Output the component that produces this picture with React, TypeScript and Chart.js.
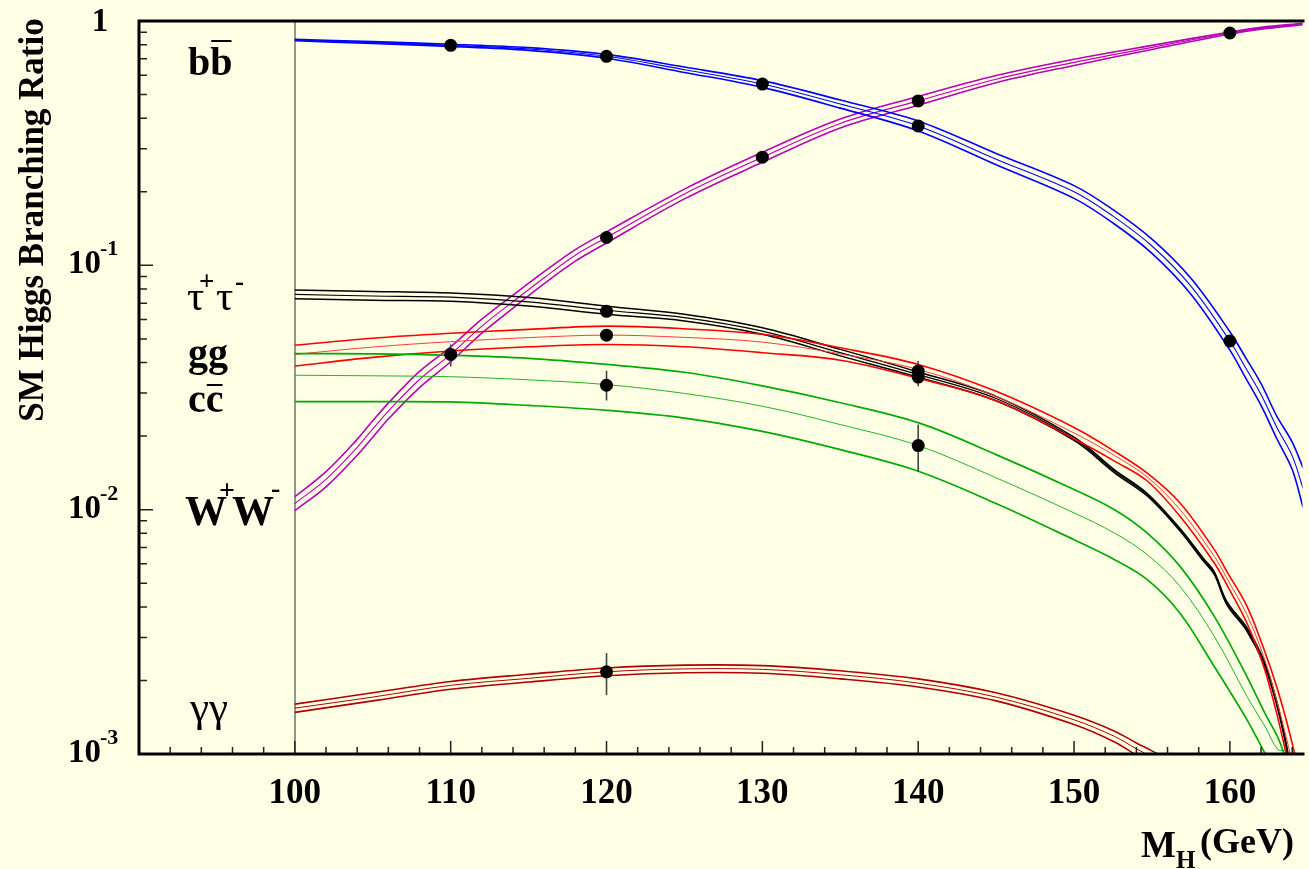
import React, { useEffect, useRef } from "react";
import { Chart, registerables } from "chart.js";

Chart.register(...registerables);

const W = 1309;
const H = 869;
const BG = "rgb(255,255,230)";
const SERIF = '"Liberation Serif", "Times New Roman", serif';

// ---------------- axis ticks ----------------
const xMajorTicks = [100, 110, 120, 130, 140, 150, 160];
const xTickLabels = ["100", "110", "120", "130", "140", "150", "160"];
const yDecades = [0.001, 0.01, 0.1, 1];
const yDecadeExponents = ["-3", "-2", "-1", ""];

// ---------------- b bbar (blue) ----------------
const bbMass = [100, 105, 110, 115, 120, 125, 130, 135, 140, 145, 150, 152.5, 155, 157.5, 160, 161, 162, 163, 164, 164.7];
const bbCentral = [0.836, 0.816, 0.795, 0.768, 0.717, 0.632, 0.552, 0.457, 0.372, 0.272, 0.2, 0.159, 0.12, 0.0822, 0.049, 0.0382, 0.0296, 0.0218, 0.0166, 0.0122];
const bbUpper = [0.842, 0.823, 0.803, 0.778, 0.73, 0.648, 0.57, 0.475, 0.39, 0.287, 0.212, 0.169, 0.128, 0.0885, 0.0535, 0.042, 0.0328, 0.0242, 0.0189, 0.0148];
const bbLower = [0.83, 0.809, 0.787, 0.758, 0.704, 0.616, 0.535, 0.44, 0.355, 0.258, 0.188, 0.149, 0.112, 0.0762, 0.045, 0.0347, 0.0267, 0.0196, 0.0146, 0.0102];

// ---------------- W+W- (magenta) ----------------
const wwMass = [100, 102, 104, 105, 106, 108, 110, 112, 114, 116, 118, 120, 125, 130, 135, 140, 145, 150, 155, 160, 162, 164.7];
const wwCentral = [0.0106, 0.0133, 0.018, 0.0214, 0.0253, 0.0341, 0.0432, 0.0564, 0.071, 0.089, 0.11, 0.13, 0.196, 0.277, 0.381, 0.471, 0.578, 0.677, 0.78, 0.893, 0.934, 0.972];
const wwUpper = [0.0113, 0.0143, 0.0194, 0.0231, 0.0273, 0.0368, 0.0464, 0.0602, 0.0755, 0.0942, 0.116, 0.137, 0.205, 0.29, 0.397, 0.491, 0.598, 0.697, 0.795, 0.901, 0.942, 0.978];
const wwLower = [0.0099, 0.0124, 0.0167, 0.0198, 0.0235, 0.0316, 0.0403, 0.0528, 0.0668, 0.0841, 0.104, 0.1235, 0.187, 0.264, 0.365, 0.452, 0.559, 0.658, 0.765, 0.885, 0.926, 0.966];

// ---------------- tau+tau- (black) ----------------
const tauMass = [100, 105, 110, 115, 120, 125, 130, 135, 140, 145, 150, 152.6, 154.7, 156.8, 158.3, 159, 159.8, 161.1, 162.2, 163, 163.55, 163.9];
const tauCentral = [0.076, 0.0749, 0.0741, 0.0709, 0.0655, 0.0611, 0.0538, 0.0439, 0.0357, 0.0285, 0.0195, 0.01435, 0.01151, 0.00828, 0.00624, 0.0055, 0.00415, 0.00323, 0.00236, 0.00162, 0.00114, 0.00085];
const tauUpper = [0.0792, 0.0782, 0.077, 0.0738, 0.068, 0.063, 0.0555, 0.0453, 0.0366, 0.0291, 0.0198, 0.01455, 0.01165, 0.00838, 0.00632, 0.00557, 0.00421, 0.00328, 0.0024, 0.00165, 0.00116, 0.00087];
const tauLower = [0.073, 0.0719, 0.0713, 0.0681, 0.063, 0.0592, 0.0522, 0.0426, 0.0348, 0.0279, 0.0192, 0.01415, 0.01137, 0.00818, 0.00616, 0.00543, 0.00409, 0.00318, 0.00232, 0.00159, 0.00112, 0.00083];

// ---------------- gg (red) ----------------
const ggMass = [100, 105, 110, 115, 120, 125, 130, 135, 140, 145, 150, 152.6, 154.7, 156.8, 159, 159.8, 161.1, 162.2, 163, 163.6, 164.2];
const ggCentral = [0.0432, 0.0463, 0.0487, 0.0506, 0.0518, 0.0507, 0.0485, 0.0434, 0.0375, 0.0291, 0.0206, 0.01665, 0.0136, 0.01, 0.00644, 0.00525, 0.00371, 0.00247, 0.00166, 0.00118, 0.00082];
const ggUpper = [0.0471, 0.0503, 0.0527, 0.0547, 0.0564, 0.055, 0.0522, 0.046, 0.0393, 0.0305, 0.0217, 0.01733, 0.0141, 0.01065, 0.00686, 0.00559, 0.00402, 0.00267, 0.00189, 0.00139, 0.00098];
const ggLower = [0.0387, 0.042, 0.0446, 0.0464, 0.0474, 0.0464, 0.0439, 0.0409, 0.0345, 0.0279, 0.0195, 0.0158, 0.0131, 0.00939, 0.00605, 0.00493, 0.00343, 0.00225, 0.00147, 0.00101, 0.0007];

// ---------------- c cbar (green) ----------------
const ccMass = [100, 105, 110, 115, 120, 125, 130, 135, 140, 145, 150, 152.6, 154.7, 156.8, 159, 161.1, 162.27, 163.1, 163.6];
const ccCentral = [0.0355, 0.0353, 0.035, 0.034, 0.0325, 0.0299, 0.0265, 0.0223, 0.0183, 0.0135, 0.0097, 0.00802, 0.00654, 0.00485, 0.00303, 0.00172, 0.00129, 0.00104, 0.00104];
const ccUpper = [0.0435, 0.0434, 0.0428, 0.0416, 0.0393, 0.0365, 0.0321, 0.0274, 0.0227, 0.0168, 0.0121, 0.01, 0.00802, 0.00586, 0.00366, 0.00207, 0.00146, 0.00116, 0.00095];
const ccLower = [0.0277, 0.0277, 0.0276, 0.0267, 0.0255, 0.0237, 0.0209, 0.0176, 0.01437, 0.0106, 0.00753, 0.00624, 0.00517, 0.00377, 0.00228, 0.00138, 0.001, 0.0008, 0.0007];

// ---------------- gamma gamma (dark red) ----------------
const aaMass = [100, 105, 110, 115, 120, 125, 130, 135, 140, 145, 150, 152.6, 154, 155, 156];
const aaCentral = [0.00154, 0.00171, 0.00191, 0.00204, 0.00217, 0.00223, 0.00222, 0.00211, 0.00195, 0.00171, 0.00138, 0.00118, 0.00105, 0.00097, 0.00088];
const aaUpper = [0.0016, 0.00178, 0.00198, 0.00212, 0.00225, 0.00231, 0.0023, 0.00219, 0.00203, 0.00178, 0.00144, 0.00124, 0.00111, 0.00103, 0.00095];
const aaLower = [0.00148, 0.00165, 0.00184, 0.00197, 0.00209, 0.00215, 0.00214, 0.00203, 0.00188, 0.00165, 0.00132, 0.00112, 0.00099, 0.00092, 0.00084];

// ---------------- measured points ----------------
const bbDotMass = [110, 120, 130, 140, 160];
const bbDotValue = [0.795, 0.717, 0.552, 0.372, 0.049];
const wwDotMass = [110, 120, 130, 140, 160];
const wwDotValue = [0.0432, 0.13, 0.277, 0.471, 0.893];
const tauDotMass = [120, 140];
const tauDotValue = [0.0648, 0.0349];
const ggDotMass = [120, 140];
const ggDotValue = [0.0518, 0.0369];
const ccDotMass = [120, 140];
const ccDotValue = [0.0323, 0.0183];
const aaDotMass = [120];
const aaDotValue = [0.00217];

// ---------------- error bars ----------------
const errMass = [110, 120, 140, 140, 120];
const errLow = [0.0385, 0.028, 0.032, 0.01435, 0.00174];
const errHigh = [0.0474, 0.037, 0.0406, 0.0223, 0.00259];

const pts = (xs: number[], ys: number[]) => xs.map((x, i) => ({ x, y: ys[i] }));

type BandStyle = { outer: string; inner: string; outerWidth: number; innerWidth: number };

function bandDatasets(mass: number[], up: number[], cen: number[], lo: number[], s: BandStyle) {
  const base = { pointRadius: 0, fill: false, tension: 0.35, order: 3 };
  return [
    { ...base, data: pts(mass, up), borderColor: s.outer, borderWidth: s.outerWidth },
    { ...base, data: pts(mass, cen), borderColor: s.inner, borderWidth: s.innerWidth },
    { ...base, data: pts(mass, lo), borderColor: s.outer, borderWidth: s.outerWidth },
  ];
}

function dotDataset(mass: number[], vals: number[]) {
  return {
    data: pts(mass, vals),
    showLine: false,
    pointRadius: 6.5,
    pointBackgroundColor: "#000",
    pointBorderColor: "#000",
    pointBorderWidth: 0,
    order: 0,
  };
}

function buildDatasets() {
  const ds: any[] = [];
  ds.push(...bandDatasets(ccMass, ccUpper, ccCentral, ccLower, { outer: "#00aa00", inner: "#22b422", outerWidth: 1.7, innerWidth: 1.0 }));
  ds.push(...bandDatasets(aaMass, aaUpper, aaCentral, aaLower, { outer: "#b00000", inner: "#b00000", outerWidth: 1.6, innerWidth: 1.0 }));
  ds.push(...bandDatasets(ggMass, ggUpper, ggCentral, ggLower, { outer: "#ff0000", inner: "#ff3a3a", outerWidth: 1.6, innerWidth: 1.0 }));
  ds.push(...bandDatasets(tauMass, tauUpper, tauCentral, tauLower, { outer: "#000000", inner: "#000000", outerWidth: 1.5, innerWidth: 1.2 }));
  ds.push(...bandDatasets(bbMass, bbUpper, bbCentral, bbLower, { outer: "#0000ff", inner: "#0000ff", outerWidth: 1.6, innerWidth: 1.1 }));
  ds.push(...bandDatasets(wwMass, wwUpper, wwCentral, wwLower, { outer: "#b800b8", inner: "#b800b8", outerWidth: 1.6, innerWidth: 1.1 }));
  errMass.forEach((m, i) => {
    ds.push({
      data: [{ x: m, y: errLow[i] }, { x: m, y: errHigh[i] }],
      borderColor: "#444",
      borderWidth: 1.6,
      pointRadius: 0,
      order: 1,
    });
  });
  ds.push(dotDataset(bbDotMass, bbDotValue));
  ds.push(dotDataset(wwDotMass, wwDotValue));
  ds.push(dotDataset(tauDotMass, tauDotValue));
  ds.push(dotDataset(ggDotMass, ggDotValue));
  ds.push(dotDataset(ccDotMass, ccDotValue));
  ds.push(dotDataset(aaDotMass, aaDotValue));
  return ds;
}

const decorPlugin = {
  id: "decor",
  beforeDraw(chart: any) {
    const { ctx, width, height } = chart;
    ctx.save();
    ctx.fillStyle = BG;
    ctx.fillRect(0, 0, width, height);
    ctx.restore();
  },
  beforeDatasetsDraw(chart: any) {
    const { ctx, chartArea: a } = chart;
    const x = chart.scales.x;
    const px = Math.round(x.getPixelForValue(100));
    ctx.save();
    ctx.strokeStyle = "#7a7a7a";
    ctx.lineWidth = 1.6;
    ctx.beginPath();
    ctx.moveTo(px, a.top);
    ctx.lineTo(px, a.bottom);
    ctx.stroke();
    ctx.restore();
  },
  afterDatasetsDraw(chart: any) {
    const { ctx, chartArea: a } = chart;
    const xs = chart.scales.x;
    const ys = chart.scales.y;
    ctx.save();

    // ticks
    ctx.strokeStyle = "#222";
    ctx.lineWidth = 1.5;
    ctx.beginPath();
    for (let i = 0; i < yDecades.length; i++) {
      const d = yDecades[i];
      const py = ys.getPixelForValue(d);
      ctx.moveTo(a.left, py);
      ctx.lineTo(a.left + 14, py);
      if (d < 1) {
        for (let k = 2; k <= 9; k++) {
          const pm = ys.getPixelForValue(d * k);
          ctx.moveTo(a.left, pm);
          ctx.lineTo(a.left + 8, pm);
        }
      }
    }
    for (let v = 92; v <= xs.max; v += 2) {
      const px = xs.getPixelForValue(v);
      const len = v % 10 === 0 ? 13 : 7;
      ctx.moveTo(px, a.bottom);
      ctx.lineTo(px, a.bottom - len);
    }
    ctx.stroke();

    // frame
    ctx.strokeStyle = "#000";
    ctx.lineWidth = 3;
    ctx.beginPath();
    ctx.moveTo(a.right + 2, a.top);
    ctx.lineTo(a.left, a.top);
    ctx.lineTo(a.left, a.bottom);
    ctx.lineTo(a.right + 2, a.bottom);
    ctx.stroke();

    ctx.fillStyle = "#000";
    ctx.textBaseline = "alphabetic";

    // x tick labels
    ctx.font = `bold 35px ${SERIF}`;
    ctx.textAlign = "center";
    xMajorTicks.forEach((v, i) => {
      ctx.fillText(xTickLabels[i], xs.getPixelForValue(v), 803);
    });

    // y tick labels
    yDecades.forEach((d, i) => {
      const py = ys.getPixelForValue(d);
      const e = yDecadeExponents[i];
      if (e === "") {
        ctx.font = `bold 33px ${SERIF}`;
        ctx.textAlign = "center";
        ctx.fillText("1", 100, py + 10);
      } else {
        ctx.font = `bold 33px ${SERIF}`;
        ctx.textAlign = "right";
        ctx.fillText("10", 101, py + 8);
        ctx.font = `bold 22px ${SERIF}`;
        ctx.textAlign = "left";
        ctx.fillText(e, 100, py - 10);
      }
    });

    // y axis title
    ctx.save();
    ctx.translate(43, 220);
    ctx.rotate(-Math.PI / 2);
    ctx.font = `bold 35px ${SERIF}`;
    ctx.textAlign = "center";
    ctx.fillText("SM Higgs Branching Ratio", 0, 0);
    ctx.restore();

    // x axis title  M_H(GeV)
    ctx.textAlign = "left";
    ctx.font = `bold 37px ${SERIF}`;
    ctx.fillText("M", 1141, 857);
    ctx.font = `bold 25px ${SERIF}`;
    ctx.fillText("H", 1176, 868);
    ctx.font = `bold 36px ${SERIF}`;
    ctx.fillText("(GeV)", 1200, 853);

    // channel labels
    // b bbar
    ctx.font = `bold 40px ${SERIF}`;
    ctx.fillText("bb", 188, 75);
    const bW = ctx.measureText("b").width;
    ctx.lineWidth = 2;
    ctx.beginPath();
    ctx.moveTo(188 + bW + 1, 41);
    ctx.lineTo(188 + 2 * bW - 1, 41);
    ctx.stroke();

    // tau+ tau-
    ctx.font = `43px ${SERIF}`;
    ctx.fillText("τ", 187, 310);
    ctx.fillText("τ", 216, 310);
    ctx.font = `bold 27px ${SERIF}`;
    ctx.fillText("+", 199, 290);
    ctx.fillText("-", 235, 290);

    // gg
    ctx.font = `bold 40px ${SERIF}`;
    ctx.fillText("gg", 188, 366);

    // c cbar
    ctx.fillText("cc", 188, 412);
    const cW = ctx.measureText("c").width;
    ctx.beginPath();
    ctx.moveTo(188 + cW + 1, 385);
    ctx.lineTo(188 + 2 * cW - 1, 385);
    ctx.stroke();

    // W+ W-
    ctx.font = `bold 42px ${SERIF}`;
    ctx.fillText("W", 185, 525);
    ctx.fillText("W", 232, 525);
    ctx.font = `bold 28px ${SERIF}`;
    ctx.fillText("+", 219, 499);
    ctx.fillText("-", 271, 497);

    // gamma gamma
    ctx.font = `43px ${SERIF}`;
    ctx.fillText("γγ", 190, 721);

    ctx.restore();
  },
};

export default function App() {
  const ref = useRef<HTMLCanvasElement>(null);
  useEffect(() => {
    document.body.style.margin = "0";
    document.body.style.background = BG;
    const canvas = ref.current;
    if (!canvas) return;
    const chart = new Chart(canvas, {
      type: "line",
      data: { datasets: buildDatasets() },
      options: {
        animation: false,
        responsive: false,
        devicePixelRatio: 1,
        events: [],
        layout: { padding: { left: 139, top: 21, right: 0, bottom: 115 } },
        plugins: { legend: { display: false }, tooltip: { enabled: false }, title: { display: false } },
        scales: {
          x: { type: "linear", min: 90, max: 164.66, display: false },
          y: { type: "logarithmic", min: 0.001, max: 1, display: false },
        },
      },
      plugins: [decorPlugin],
    } as any);
    return () => chart.destroy();
  }, []);
  return (
    <div style={{ position: "fixed", left: 0, top: 0, width: W, height: H, background: BG }}>
      <canvas ref={ref} width={W} height={H} style={{ display: "block", width: W, height: H }} />
    </div>
  );
}
